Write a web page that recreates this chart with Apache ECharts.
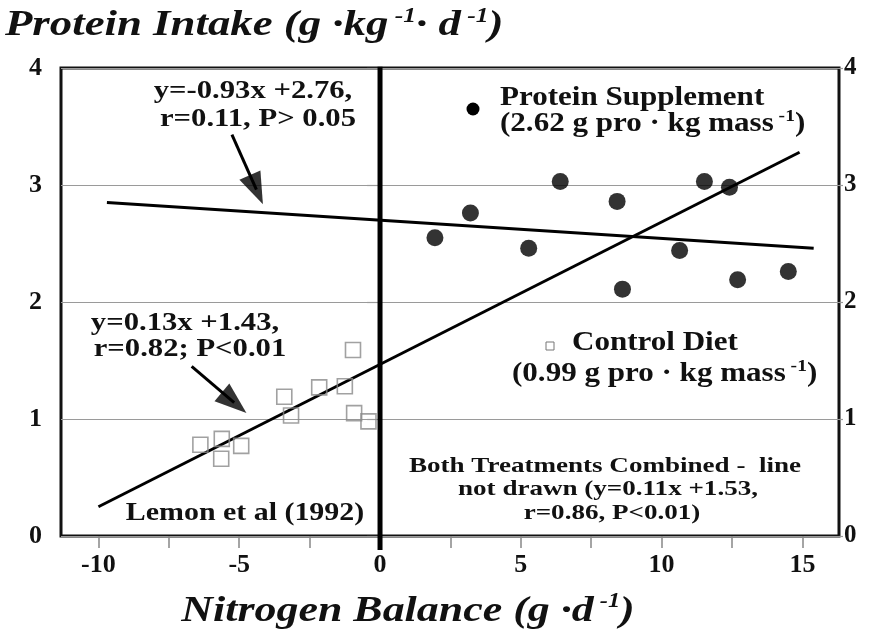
<!DOCTYPE html>
<html>
<head>
<meta charset="utf-8">
<script src="https://cdn.jsdelivr.net/npm/echarts@6/dist/echarts.min.js"></script>
<style>
  html, body { margin: 0; padding: 0; background: #fff; }
  #chart { width: 871px; height: 636px; }
</style>
</head>
<body>
<div id="chart"></div>
<script>
// Axis ticks and labels
const xTickValues = [-10, -7.5, -5, -2.5, 0, 2.5, 5, 7.5, 10, 12.5, 15];
const xLabelValues = [-10, -5, 0, 5, 10, 15];
const yTickValues = [0, 1, 2, 3, 4];

// Nitrogen balance (g/d) vs protein intake (g/kg/d)
const controlDiet = [
  [-6.38, 0.78], [-5.62, 0.83], [-5.64, 0.66], [-4.93, 0.77],
  [-3.40, 1.19], [-3.16, 1.03], [-2.16, 1.27], [-1.25, 1.28],
  [-0.96, 1.59], [-0.92, 1.05], [-0.41, 0.98]
];
const proteinSupplement = [
  [1.95, 2.55], [3.21, 2.76], [5.28, 2.46], [6.40, 3.03],
  [8.42, 2.86], [8.61, 2.11], [10.64, 2.44], [11.52, 3.03],
  [12.41, 2.98], [12.70, 2.19], [14.50, 2.26]
];

// Regression line end points
const supplementFit = [[-9.7, 2.85], [15.4, 2.46]];
const controlFit = [[-10.0, 0.25], [14.9, 3.28]];

// Zero nitrogen balance reference
const zeroBalance = [[0, -0.12], [0, 4.01]];

// Call-out arrows: shaft start, head centre, head rotation
const arrowShafts = [
  [[-5.26, 3.43], [-4.39, 2.96]],
  [[-6.69, 1.45], [-5.18, 1.14]]
];
const arrowHeads = [[-4.39, 2.96], [-5.18, 1.14]];
const arrowAngles = [204, 230];

const SERIF = '"Liberation Serif", "Times New Roman", serif';
const chart = echarts.init(document.getElementById('chart'));

function label(text, x, y, size, align, sx, extra) {
  return Object.assign({
    type: 'text', x: x, y: y, scaleX: sx, z: 50,
    style: {
      text: text, fill: '#111', textAlign: align, textVerticalAlign: 'middle',
      font: 'bold ' + size + 'px ' + SERIF
    }
  }, extra || {});
}

function supLabel(parts, x, y, size, supSize, align, sx, italic) {
  const style = italic ? 'italic ' : '';
  const text = parts.map(p => p[1] ? '{s|' + p[0] + '}' : '{b|' + p[0] + '}').join('');
  return {
    type: 'text', x: x, y: y, scaleX: sx, z: 50,
    style: {
      text: text, fill: '#111', textAlign: align, textVerticalAlign: 'middle',
      rich: {
        b: { font: style + 'bold ' + size + 'px ' + SERIF, lineHeight: size + 4 },
        s: { font: style + 'bold ' + supSize + 'px ' + SERIF, verticalAlign: 'top', lineHeight: supSize }
      }
    }
  };
}

const axisLabelStyle = { color: '#111', fontSize: 26, fontWeight: 'bold', fontFamily: SERIF };

const option = {
  backgroundColor: '#fff',
  animation: false,
  grid: {
    left: 61, right: 32, top: 68, bottom: 100,
    show: true, borderColor: '#111', borderWidth: 3, backgroundColor: 'transparent'
  },
  xAxis: {
    type: 'value', min: -11.33, max: 16.3,
    axisLine: { show: false },
    splitLine: { show: false },
    axisTick: { show: true, customValues: xTickValues, length: 12, lineStyle: { color: '#888', width: 1.5 } },
    axisLabel: Object.assign({ customValues: xLabelValues, margin: 16 }, axisLabelStyle)
  },
  yAxis: [
    {
      type: 'value', min: 0, max: 4, interval: 1, position: 'left',
      axisLine: { show: false },
      splitLine: { show: true, lineStyle: { color: '#9a9a9a', width: 1.2 } },
      axisTick: { show: true, length: 13, lineStyle: { color: '#9a9a9a', width: 1.2 } },
      axisLabel: Object.assign({ customValues: yTickValues, margin: 19 }, axisLabelStyle)
    },
    {
      type: 'value', min: 0, max: 4, interval: 1, position: 'right',
      axisLine: { show: false },
      splitLine: { show: false },
      axisTick: { show: true, length: 4, lineStyle: { color: '#9a9a9a', width: 1.2 } },
      axisLabel: Object.assign({ customValues: yTickValues, margin: 5 }, axisLabelStyle, { fontSize: 25 })
    }
  ],
  series: [
    {
      type: 'line', data: zeroBalance, symbol: 'none', clip: false, z: 3,
      lineStyle: { color: '#000', width: 5 }
    },
    {
      type: 'line', data: supplementFit, symbol: 'none', z: 4,
      lineStyle: { color: '#000', width: 3 }
    },
    {
      type: 'line', data: controlFit, symbol: 'none', z: 4,
      lineStyle: { color: '#000', width: 3 }
    },
    {
      name: 'Control Diet', type: 'scatter', data: controlDiet, z: 5,
      symbol: 'rect', symbolSize: 15,
      itemStyle: { color: 'rgba(255,255,255,0)', borderColor: '#8a8a8a', borderWidth: 1.6 }
    },
    {
      name: 'Protein Supplement', type: 'scatter', data: proteinSupplement, z: 6,
      symbol: 'circle', symbolSize: 17,
      itemStyle: { color: '#000' }
    },
    {
      type: 'lines', coordinateSystem: 'cartesian2d', z: 7,
      data: arrowShafts.map(c => ({ coords: c })),
      symbol: ['none', 'none'],
      lineStyle: { color: '#000', width: 3, opacity: 1 }
    },
    {
      type: 'scatter', z: 8, silent: true,
      data: arrowHeads.map((p, i) => ({ value: p, symbolRotate: arrowAngles[i] })),
      symbol: 'triangle', symbolSize: [23, 32],
      itemStyle: { color: '#000' }
    }
  ],
  graphic: [
    supLabel([['Protein Intake (g ·kg', 0], [' -1', 1], ['· d', 0], [' -1', 1], [')', 0]],
      5, 26, 35, 20, 'left', 1.28, true),
    supLabel([['Nitrogen Balance (g ·d', 0], [' -1', 1], [')', 0]],
      408, 612, 36, 20, 'center', 1.22, true),

    label('y=-0.93x +2.76,', 253, 91, 26, 'center', 1.18),
    label('r=0.11, P> 0.05', 258, 119, 26, 'center', 1.18),

    label('y=0.13x +1.43,', 185, 323, 26, 'center', 1.18),
    label('r=0.82; P<0.01', 190, 349, 26, 'center', 1.18),

    { type: 'circle', shape: { cx: 473, cy: 109, r: 6.5 }, style: { fill: '#000' }, z: 50 },
    label('Protein Supplement', 500, 98, 27, 'left', 1.15),
    supLabel([['(2.62 g pro · kg mass', 0], [' -1', 1], [')', 0]], 500, 124, 27, 17, 'left', 1.15),

    { type: 'rect', shape: { x: 546, y: 342, width: 8, height: 8 }, style: { fill: '#fff', stroke: '#777', lineWidth: 1 }, z: 50 },
    label('Control Diet', 572, 343, 27, 'left', 1.15),
    supLabel([['(0.99 g pro · kg mass', 0], [' -1', 1], [')', 0]], 512, 374, 27, 17, 'left', 1.15),

    label('Both Treatments Combined -  line', 605, 466, 22, 'center', 1.23),
    label('not drawn (y=0.11x +1.53,', 608, 489, 22, 'center', 1.23),
    label('r=0.86, P<0.01)', 612, 513, 22, 'center', 1.23),

    label('Lemon et al (1992)', 245, 513, 26, 'center', 1.15)
  ]
};

chart.setOption(option);
</script>
</body>
</html>
